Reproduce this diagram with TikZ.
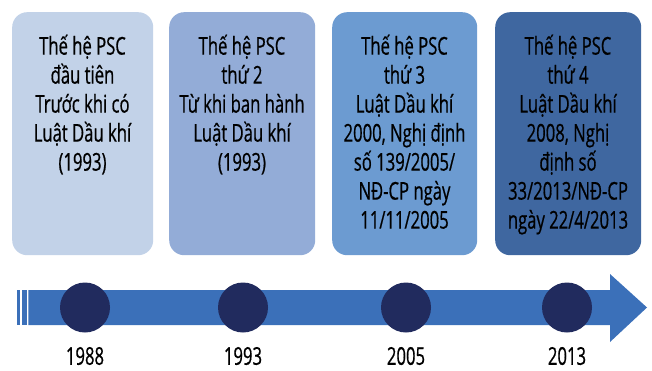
\documentclass[tikz,border=0pt]{standalone}
\usepackage{fontspec}
\setmainfont{Open Sans}[FakeStretch=0.68,FakeBold=0.6]
\definecolor{boxA}{HTML}{C2D2E8}
\definecolor{boxB}{HTML}{93ACD7}
\definecolor{boxC}{HTML}{6C9BD1}
\definecolor{boxD}{HTML}{3F67A0}
\definecolor{arrowblue}{HTML}{3B70B9}
\definecolor{dotblue}{HTML}{212B5E}
\begin{document}
\begin{tikzpicture}[x=1pt,y=-1pt,
  genbox/.style={rounded corners=15pt, minimum width=#1, minimum height=243pt, inner sep=0pt, anchor=north west},
  gentext/.style={anchor=north, align=center, inner sep=0pt, font=\fontsize{24.5}{29}\selectfont, text=black},
  dot/.style={circle, fill=dotblue, minimum size=50pt, inner sep=0pt},
  year/.style={font=\fontsize{24.5}{26}\selectfont, text=black, inner sep=0pt}]
\useasboundingbox (0,0) rectangle (652,370);
% boxes
\node[genbox=141pt, fill=boxA] (b1) at (12,12) {};
\node[genbox=146pt, fill=boxB] (b2) at (169,12) {};
\node[genbox=145pt, fill=boxC] (b3) at (332,12) {};
\node[genbox=146pt, fill=boxD] (b4) at (495,12) {};
% texts
\node[gentext] (t1) at (82.5,34.5) {Thế hệ PSC\\đầu tiên\\Trước khi có\\Luật Dầu khí\\(1993)};
\node[gentext] (t2) at (242,34.5) {Thế hệ PSC\\thứ 2\\Từ khi ban hành\\Luật Dầu khí\\(1993)};
\node[gentext] (t3) at (404.5,34.5) {Thế hệ PSC\\thứ 3\\Luật Dầu khí\\2000, Nghị định\\số 139/2005/\\NĐ-CP ngày\\11/11/2005};
\node[gentext] (t4) at (568,34.5) {Thế hệ PSC\\thứ 4\\Luật Dầu khí\\2008, Nghị\\định số\\33/2013/NĐ-CP\\ngày 22/4/2013};
% arrow
\fill[arrowblue] (17,290) rectangle (20,325);
\fill[arrowblue] (22,290) rectangle (26.7,325);
\fill[arrowblue] (28.3,290) -- (610,290) -- (610,274) -- (647,307.5) -- (610,342) -- (610,325) -- (28.3,325) -- cycle;
% dots
\node[dot] (d1) at (85,307.5) {};
\node[dot] (d2) at (243,307.5) {};
\node[dot] (d3) at (406,307.5) {};
\node[dot] (d4) at (567,307.5) {};
% years
\node[year] (y1) at (85,356) {1988};
\node[year] (y2) at (243,356) {1993};
\node[year] (y3) at (406,356) {2005};
\node[year] (y4) at (567,356) {2013};
\end{tikzpicture}
\end{document}
